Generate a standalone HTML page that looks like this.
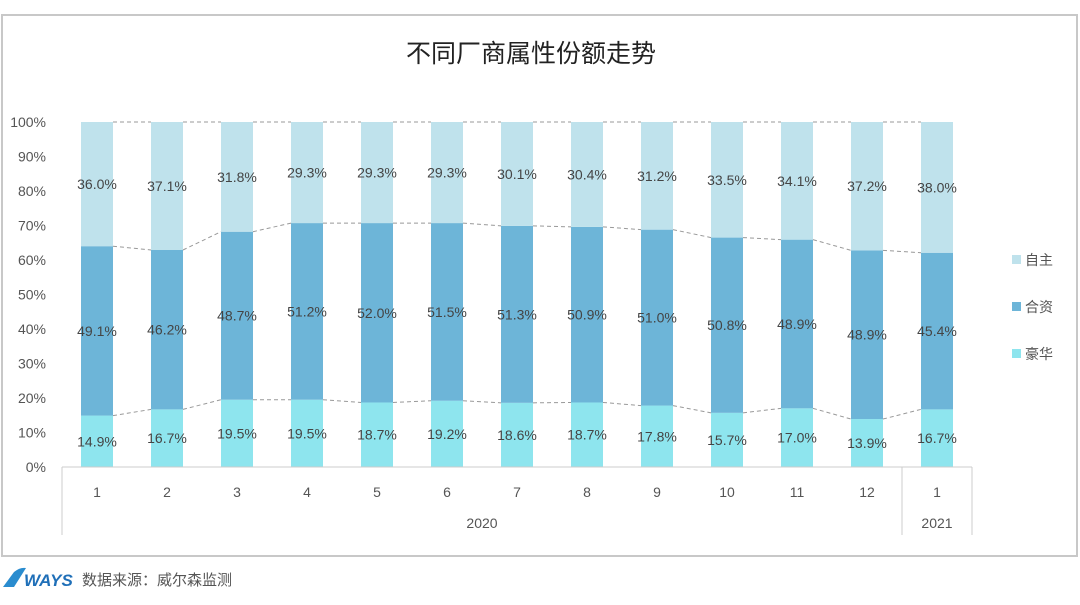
<!DOCTYPE html>
<html><head><meta charset="utf-8"><style>
body{margin:0;background:#fff;width:1080px;height:600px;overflow:hidden;font-family:"Liberation Sans","Noto Sans CJK SC",sans-serif;}
svg text{font-family:"Liberation Sans","Noto Sans CJK SC",sans-serif;}
</style></head><body>
<svg width="1080" height="600" id="svg">
<rect x="2" y="15" width="1075" height="541" fill="#fff" stroke="#c8c8c8" stroke-width="2"/>
<text x="531" y="62" text-anchor="middle" font-size="25" fill="#222">不同厂商属性份额走势</text>
<g id="g"></g>
<g>
<rect x="1012" y="255" width="9" height="9" fill="#bfe2ec"/>
<text x="1025" y="265" font-size="14" fill="#555">自主</text>
<rect x="1012" y="302" width="9" height="9" fill="#6db5d8"/>
<text x="1025" y="312" font-size="14" fill="#555">合资</text>
<rect x="1012" y="349" width="9" height="9" fill="#8ee5ee"/>
<text x="1025" y="359" font-size="14" fill="#555">豪华</text>
</g>
<g>
<path d="M3 587 L14 572 Q20 567 26 568 L14 587 Z" fill="#2a8ccf"/>
<text x="24" y="586" font-size="17" font-weight="bold" font-style="italic" fill="#1f6fb8">WAYS</text>
<text x="82" y="585" font-size="15" fill="#555">数据来源：威尔森监测</text>
</g>
</svg>
<script>
const months=["1","2","3","4","5","6","7","8","9","10","11","12","1"];
const haohua=[14.9,16.7,19.5,19.5,18.7,19.2,18.6,18.7,17.8,15.7,17.0,13.9,16.7];
const hezi=[49.1,46.2,48.7,51.2,52.0,51.5,51.3,50.9,51.0,50.8,48.9,48.9,45.4];
const zizhu=[36.0,37.1,31.8,29.3,29.3,29.3,30.1,30.4,31.2,33.5,34.1,37.2,38.0];
const yTicks=[0,10,20,30,40,50,60,70,80,90,100];
const years=[{label:"2020",from:0,to:11},{label:"2021",from:12,to:12}];
const NS="http://www.w3.org/2000/svg",g=document.getElementById('g');
const x0=62,step=70,bw=32,yB=467,yT=122;
const X=i=>x0+step*(i+0.5);
const Y=v=>yB-(yB-yT)*v/100;
function el(t,a,p){const e=document.createElementNS(NS,t);for(const k in a)e.setAttribute(k,a[k]);(p||g).appendChild(e);return e;}
yTicks.forEach(t=>{const e=el('text',{x:46,y:Y(t)+5,'text-anchor':'end','font-size':14,fill:'#555'});e.textContent=t+'%';

});
const series=[{n:'haohua',v:haohua,c:'#8ee5ee'},{n:'hezi',v:hezi,c:'#6db5d8'},{n:'zizhu',v:zizhu,c:'#bfe2ec'}];
const tops=[[],[],[]];
months.forEach((m,i)=>{let base=0;series.forEach((s,k)=>{const v=s.v[i];const top=k==2?100:base+v;
const r=el('rect',{x:X(i)-bw/2,y:Y(top),width:bw,height:Y(base)-Y(top),fill:s.c});


const t=el('text',{x:X(i),y:(Y(base)+Y(top))/2+5,'text-anchor':'middle','font-size':14,fill:'#444'});t.textContent=v.toFixed(1)+'%';


tops[k].push(top);base=top;});});
tops.forEach((arr,k)=>{for(let i=0;i<arr.length-1;i++){const l=el('line',{x1:X(i)+bw/2,y1:Y(arr[i]),x2:X(i+1)-bw/2,y2:Y(arr[i+1]),stroke:'#999','stroke-dasharray':'4,3','stroke-width':1});

}});
const ax=el('line',{x1:x0,y1:yB,x2:x0+step*13,y2:yB,stroke:'#ccc'});


[0,12,13].forEach(i=>{const l=el('line',{x1:x0+step*i,y1:yB,x2:x0+step*i,y2:535,stroke:'#ccc'});

});
months.forEach((m,i)=>{const t=el('text',{x:X(i),y:497,'text-anchor':'middle','font-size':14,fill:'#555'});t.textContent=m;

});
years.forEach(y=>{const t=el('text',{x:(X(y.from)+X(y.to))/2,y:528,'text-anchor':'middle','font-size':14,fill:'#555'});t.textContent=y.label;

});
</script>
</body></html>
